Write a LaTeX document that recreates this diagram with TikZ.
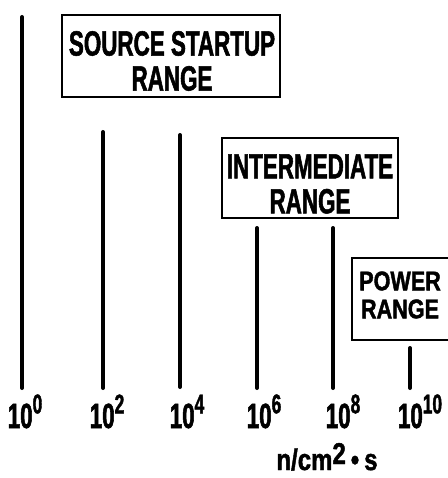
\documentclass[tikz,border=0pt]{standalone}
\usepackage{fontspec}
\newfontfamily\lblfont{Liberation Sans}[FakeStretch=0.64,FakeBold=1.5]
\newfontfamily\unitfont{Liberation Sans}[FakeStretch=0.8,FakeBold=1.5]
\newcommand{\dec}[1]{10\raisebox{0.42em}{\fontsize{27}{27}\selectfont #1}}
\begin{document}
\begin{tikzpicture}[x=1pt,y=-1pt,
  bar/.style={line width=4pt,line cap=round},
  rangebox/.style={draw,line width=2.8pt,inner sep=0pt},
  lbl/.style={font=\lblfont\bfseries\fontsize{35}{35}\selectfont,inner sep=0pt,align=center}]
  \useasboundingbox (0,0) rectangle (447,478);
  % vertical bars
  \draw[bar] (22,17) -- (22,388);
  \draw[bar] (103,132) -- (103,388);
  \draw[bar] (180,135) -- (180,387);
  \draw[bar] (257,228) -- (257,388);
  \draw[bar] (333,228) -- (333,388);
  \draw[bar] (410,348) -- (410,388);
  % source startup range
  \node[rangebox,minimum width=218pt,minimum height=82pt] (src) at (171,56) {};
  \node[lbl] (srctxt) at (172,61) {SOURCE STARTUP\\RANGE};
  % intermediate range
  \node[rangebox,minimum width=176pt,minimum height=80pt] (mid) at (310,178) {};
  \node[lbl] (midtxt) at (310,184) {INTERMEDIATE\\RANGE};
  % power range (box runs off the right edge)
  \draw[line width=2.8pt] (449,258) -- (352,258) -- (352,340) -- (449,340);
  \node[lbl,font=\unitfont\bfseries\fontsize{27}{28}\selectfont] (pwr) at (400,295)
    {POWER\\RANGE};
  % decade labels
  \node[lbl,anchor=base] (d0) at (25,428) {\dec{0}};
  \node[lbl,anchor=base] (d2) at (107,428) {\dec{2}};
  \node[lbl,anchor=base] (d4) at (187,428) {\dec{4}};
  \node[lbl,anchor=base] (d6) at (264,428) {\dec{6}};
  \node[lbl,anchor=base] (d8) at (343,428) {\dec{8}};
  \node[lbl,anchor=base] (d10) at (420,428) {\dec{10}};
  % unit
  \node[lbl,anchor=base,font=\unitfont\bfseries\fontsize{30}{30}\selectfont] (unit) at (327,470)
    {n/cm\raisebox{0.2em}{2}\,•\,s};
\end{tikzpicture}
\end{document}
